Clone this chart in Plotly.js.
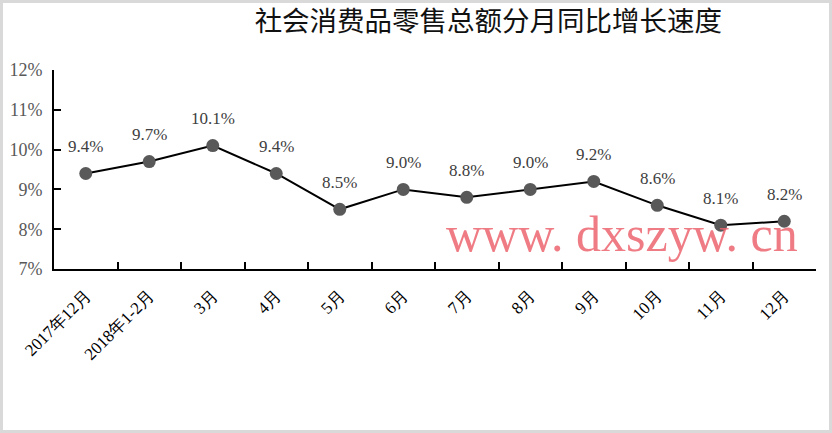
<!DOCTYPE html>
<html>
<head>
<meta charset="utf-8">
<script src="https://cdn.plot.ly/plotly-3.0.1.min.js"></script>
<style>
  html, body { margin: 0; padding: 0; background: #fff; }
  #wrap { position: relative; width: 832px; height: 433px; }
  #chart { width: 832px; height: 433px; }
  #frame { position: absolute; left: 0; top: 0; width: 832px; height: 433px;
           box-sizing: border-box; border: 3px solid #d9d9d9; pointer-events: none; }
</style>
</head>
<body>
<div id="wrap">
  <div id="chart"></div>
  <div id="frame"></div>
</div>
<script>
// Monthly year-on-year growth of total retail sales of consumer goods (%)
const months = ['2017年12月', '2018年1-2月', '3月', '4月', '5月', '6月',
                '7月', '8月', '9月', '10月', '11月', '12月'];
const growth = [9.4, 9.7, 10.1, 9.4, 8.5, 9.0, 8.8, 9.0, 9.2, 8.6, 8.1, 8.2];
const yTicks = [7, 8, 9, 10, 11, 12];

const serif = 'Liberation Serif, Times New Roman, serif';

const trace = {
  type: 'scatter',
  mode: 'lines+markers',
  x: months,
  y: growth,
  line: { color: '#000000', width: 2 },
  marker: { color: '#595959', size: 13 },
  cliponaxis: false,
  hoverinfo: 'skip'
};

// value labels sit above each point
const valueLabels = months.map((m, i) => ({
  x: m, y: growth[i], xref: 'x', yref: 'y',
  text: growth[i].toFixed(1) + '%',
  showarrow: false, yanchor: 'middle', yshift: 27,
  font: { family: serif, size: 17, color: '#404040' }
}));

const layout = {
  width: 832,
  height: 433,
  margin: { l: 54, r: 16, t: 70, b: 164 },
  paper_bgcolor: '#ffffff',
  plot_bgcolor: '#ffffff',
  showlegend: false,
  title: {
    text: '社会消费品零售总额分月同比增长速度',
    font: { family: 'Noto Sans CJK SC, sans-serif', size: 27.5, color: '#111111' },
    xref: 'container', x: 0.587, xanchor: 'center',
    yref: 'container', y: 0.95, yanchor: 'middle'
  },
  xaxis: {
    type: 'category',
    showline: true, linecolor: '#000000', linewidth: 2,
    ticks: 'inside', ticklen: 7, tickwidth: 2, tickcolor: '#000000',
    tickson: 'boundaries',
    showgrid: false, zeroline: false,
    tickangle: -45,
    tickfont: { family: serif, size: 17, color: '#000000' },
    ticklabelstandoff: 8,
    range: [-0.5, months.length - 0.5]
  },
  yaxis: {
    range: [7, 12],
    tickvals: yTicks,
    ticktext: yTicks.map(v => v + '%'),
    showline: true, linecolor: '#000000', linewidth: 2,
    ticks: 'inside', ticklen: 7, tickwidth: 2, tickcolor: '#000000',
    showgrid: false, zeroline: false,
    tickfont: { family: serif, size: 18, color: '#595959' },
    ticklabelstandoff: 6
  },
  annotations: valueLabels.concat([{
    text: 'www. dxszyw. cn',
    xref: 'paper', yref: 'paper',
    x: 0.745, y: 0.178,
    xanchor: 'center', yanchor: 'middle',
    borderpad: 0,
    showarrow: false,
    font: { family: serif, size: 50, color: 'rgba(236,100,110,0.85)' }
  }])
};

Plotly.newPlot('chart', [trace], layout, { displayModeBar: false, staticPlot: true });
</script>
</body>
</html>
